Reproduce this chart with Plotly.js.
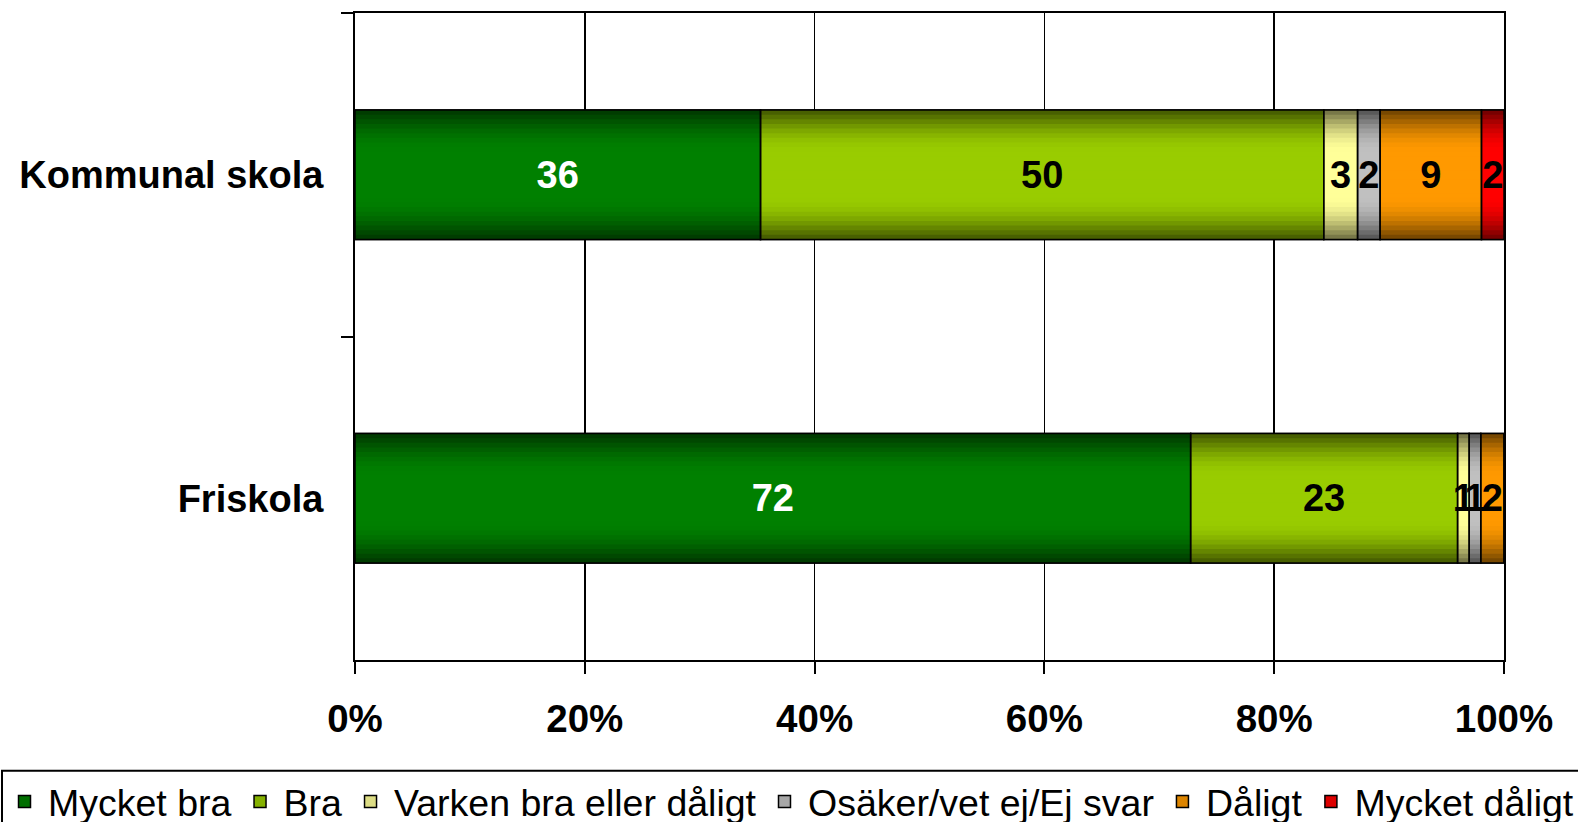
<!DOCTYPE html>
<html>
<head>
<meta charset="utf-8">
<script src="https://cdn.plot.ly/plotly-3.0.1.min.js"></script>
<style>
html,body{margin:0;padding:0;background:#fff;}
#chart{width:1578px;height:822px;}
</style>
</head>
<body>
<div id="chart"></div>
<script>
// ---- data ----
var categories = ['Kommunal skola', 'Friskola'];
var seriesNames = ['Mycket bra', 'Bra', 'Varken bra eller dåligt', 'Osäker/vet ej/Ej svar', 'Dåligt', 'Mycket dåligt'];
var mycketBra    = [36, 72];
var bra          = [50, 23];
var varken       = [3, 1];
var osaker       = [2, 1];
var daligt       = [9, 2];
var mycketDaligt = [2, 0];
var tickValues = [0, 20, 40, 60, 80, 100];

// ---- styles ----
var brightColors = [[0,128,0],[153,204,0],[255,255,153],[192,192,192],[255,153,0],[255,0,0]];
var darkColors   = [[0,60,0],[72,96,0],[120,120,72],[90,90,90],[120,72,0],[120,0,0]];
var labelColors  = ['#ffffff','#000000','#000000','#000000','#000000','#000000'];
var legendIds    = ['legend','legend','legend','legend2','legend2','legend2'];

var seriesValues = [mycketBra, bra, varken, osaker, daligt, mycketDaligt];
var FONT = 'Liberation Sans, Arial, sans-serif';

// normalize to percent (Excel 100% stacked)
var totals = categories.map(function(c, i){
  return seriesValues.reduce(function(a, s){ return a + s[i]; }, 0);
});
var pct = seriesValues.map(function(s){
  return s.map(function(v, i){ return v / totals[i] * 100; });
});
var bases = pct.map(function(s, k){
  return categories.map(function(c, i){
    var b = 0;
    for (var j = 0; j < k; j++) b += pct[j][i];
    return b;
  });
});

function rgb(c){ return 'rgb(' + c.map(Math.round).join(',') + ')'; }
function mix(a, b, t){ return [0,1,2].map(function(i){ return a[i] + (b[i]-a[i])*t; }); }

var BAR_W = 0.4;
var N = 14;
var traces = [];

// legend carriers (fully covered by the gradient layers)
seriesNames.forEach(function(name, k){
  traces.push({
    type: 'bar', orientation: 'h', name: name, legendgroup: name, legend: legendIds[k],
    showlegend: true,
    y: categories, x: pct[k], base: bases[k], width: BAR_W,
    marker: {color: rgb(mix(darkColors[k], brightColors[k], 0.75)), line: {color: '#000', width: 1.5}},
    hoverinfo: 'skip'
  });
});

// gradient layers
for (var layer = 0; layer < N; layer++) {
  var w = BAR_W * (1 - layer / N);
  var t = Math.min(1, (layer / N) / 0.62);
  t = Math.sin(t * Math.PI / 2);
  seriesNames.forEach(function(name, k){
    traces.push({
      type: 'bar', orientation: 'h', name: name, legendgroup: name, legend: legendIds[k],
      showlegend: false,
      y: categories, x: pct[k], base: bases[k], width: w,
      marker: {color: rgb(mix(darkColors[k], brightColors[k], t)), line: {width: 0}},
      hoverinfo: 'skip'
    });
  });
}

// outlines + labels
seriesNames.forEach(function(name, k){
  traces.push({
    type: 'bar', orientation: 'h', name: name, legendgroup: name, legend: legendIds[k],
    showlegend: false,
    y: categories, x: pct[k], base: bases[k], width: BAR_W,
    marker: {color: 'rgba(0,0,0,0)', line: {color: '#000', width: 1.5}},
    text: seriesValues[k].map(function(v){ return v > 0 ? String(v) : ''; }),
    textposition: 'inside', insidetextanchor: 'middle', constraintext: 'none',
    textangle: 0, cliponaxis: false,
    textfont: {family: FONT, size: 38, weight: 'bold', color: labelColors[k]},
    hoverinfo: 'skip'
  });
});

var legendCommon = {
  orientation: 'h', yref: 'paper', y: -0.1711, yanchor: 'top', xanchor: 'left',
  borderwidth: 0, bgcolor: 'rgba(0,0,0,0)', itemwidth: 37,
  font: {family: FONT, size: 37.5, color: '#000'},
  traceorder: 'normal', itemclick: false, itemdoubleclick: false
};

var layout = {
  width: 1578, height: 822,
  margin: {l: 355, r: 74, t: 13, b: 162, pad: 0, autoexpand: false},
  paper_bgcolor: '#fff', plot_bgcolor: '#fff',
  barmode: 'overlay',
  showlegend: true,
  font: {family: FONT, color: '#000'},
  xaxis: {
    range: [0, 100], tickvals: tickValues, ticktext: tickValues.map(function(v){ return v + '%'; }),
    showgrid: true, gridcolor: '#000', gridwidth: 1.5, zeroline: false,
    showline: true, linecolor: '#000', linewidth: 2, mirror: true,
    ticks: 'outside', ticklen: 12, tickwidth: 2, tickcolor: '#000',
    tickfont: {family: FONT, size: 38.5, weight: 'bold', color: '#000'},
    ticklabelstandoff: 12, fixedrange: true
  },
  yaxis: {
    type: 'category', categoryorder: 'array', categoryarray: categories,
    autorange: 'reversed',
    showgrid: false, zeroline: false,
    showline: true, linecolor: '#000', linewidth: 2, mirror: true,
    ticks: 'outside', tickson: 'boundaries', ticklen: 12, tickwidth: 2, tickcolor: '#000',
    tickfont: {family: FONT, size: 38, weight: 'bold', color: '#000'},
    ticklabelstandoff: 22, fixedrange: true
  },
  legend: Object.assign({}, legendCommon, {x: -0.30809}),
  legend2: Object.assign({}, legendCommon, {x: 0.35335}),
  shapes: [{
    type: 'rect', xref: 'paper', yref: 'paper', layer: 'above',
    x0: -0.30722, x1: 1.09, y0: -0.1711, y1: -0.35,
    line: {color: '#000', width: 2}, fillcolor: 'rgba(0,0,0,0)'
  }],
  hovermode: false
};

Plotly.newPlot('chart', traces, layout, {staticPlot: true, displayModeBar: false});
</script>
</body>
</html>
